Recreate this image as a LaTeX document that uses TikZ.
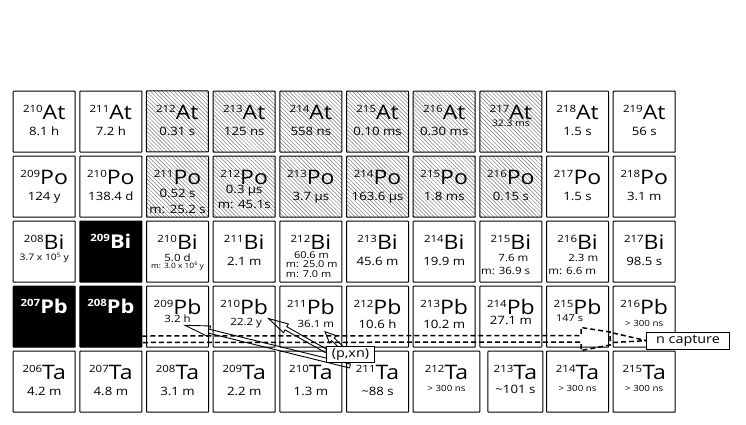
\documentclass[tikz,border=0pt]{standalone}
\usepackage{fontspec}
\setmainfont{Open Sans}[FakeStretch=1.15]
\usetikzlibrary{patterns.meta,calc}
\newcommand\iso[2]{{\fontsize{10}{12}\selectfont\raisebox{7pt}{#1}}#2}
\newcommand\isob[2]{{\fontsize{10}{12}\selectfont\bfseries\raisebox{6.5pt}{#1}}#2}
\newcommand\sups[3]{{\fontsize{#1}{#1}\selectfont\raisebox{#2}{#3}}}
\newcommand\nuc[7][box]{%
  \node[#1] (#2) at ({12.7+66.67*#3},{90.7+65*#4}) {};
  \node[sym] at ($(#2.north)+(0,28.3)$) {\iso{#5}{#6}};
  \node[hl] at ($(#2.north)+(0,44.3)$) {#7};}
\newcommand\hlt[5]{\node[anchor=base,inner sep=0pt,font=\fontsize{#4}{#4}\selectfont] at ($(#1.north)+(#2,#3)$) {#5};}
\newcommand\hlw[5]{\node[anchor=base west,inner sep=0pt,font=\fontsize{#4}{#4}\selectfont] at ($(#1.north west)+(#2,#3)$) {#5};}
\newcommand\hollowarrow[5]{%
  \coordinate (hh) at ($(#2)!#5!(#1)$);
  \draw[harrow] ($(#1)!#3!90:(#2)$) -- ($(hh)!#3!90:(#2)$) -- ($(hh)!#4!90:(#2)$) -- (#2)
    -- ($(hh)!#4!-90:(#2)$) -- ($(hh)!#3!-90:(#2)$) -- ($(#1)!#3!-90:(#2)$) -- cycle;}
\begin{document}
\begin{tikzpicture}[x=1pt,y=-1pt,
  box/.style={draw=black, line width=1pt, minimum width=62pt, minimum height=61pt, anchor=north west, inner sep=0pt, rounded corners=0.6pt},
  hatch/.style={box, pattern={Lines[angle=-45,distance=2.8pt,line width=0.45pt]}, pattern color=black!55},
  blackbox/.style={box, fill=black},
  sym/.style={anchor=base, inner sep=0pt, font=\fontsize{20}{24}\selectfont},
  bsym/.style={anchor=base, inner sep=0pt, text=white, font=\fontsize{19}{23}\selectfont\bfseries},
  hl/.style={anchor=base, inner sep=0pt, font=\fontsize{11.5}{14}\selectfont},
  band/.style={draw=black, line width=1.5pt, dash pattern=on 5pt off 3pt},
  harrow/.style={draw=black, line width=0.9pt, line join=miter},
  lab/.style={draw=black, fill=white, line width=0.9pt, inner sep=0pt, font=\fontsize{12.5}{15}\selectfont}]
\fill[white] (0,0) rectangle (746,424);
\useasboundingbox (0,0) rectangle (746,424);
% row 0: At
\nuc{a210}{0}{0}{210}{At}{8.1 h}
\nuc{a211}{1}{0}{211}{At}{7.2 h}
\nuc[hatch]{a212}{2}{0}{212}{At}{0.31 s}
\nuc[hatch]{a213}{3}{0}{213}{At}{125 ns}
\nuc[hatch]{a214}{4}{0}{214}{At}{558 ns}
\nuc[hatch]{a215}{5}{0}{215}{At}{0.10 ms}
\nuc[hatch]{a216}{6}{0}{216}{At}{0.30 ms}
\nuc[hatch]{a217}{7}{0}{217}{At}{}
\hlt{a217}{0}{36}{9}{32.3 ms}
\nuc{a218}{8}{0}{218}{At}{1.5 s}
\nuc{a219}{9}{0}{219}{At}{56 s}
% row 1: Po
\nuc{p209}{0}{1}{209}{Po}{124 y}
\nuc{p210}{1}{1}{210}{Po}{138.4 d}
\nuc[hatch]{p211}{2}{1}{211}{Po}{}
\hlt{p211}{0}{41.5}{11.5}{0.52 s}
\hlt{p211}{0}{57.5}{11.5}{m: 25.2 s}
\nuc[hatch]{p212}{3}{1}{212}{Po}{}
\hlt{p212}{0}{38}{11.5}{0.3 µs}
\hlt{p212}{0}{53}{11.5}{m: 45.1s}
\nuc[hatch]{p213}{4}{1}{213}{Po}{3.7 µs}
\nuc[hatch]{p214}{5}{1}{214}{Po}{163.6 µs}
\nuc[hatch]{p215}{6}{1}{215}{Po}{1.8 ms}
\nuc[hatch]{p216}{7}{1}{216}{Po}{0.15 s}
\nuc{p217}{8}{1}{217}{Po}{1.5 s}
\nuc{p218}{9}{1}{218}{Po}{3.1 m}
% row 2: Bi
\nuc{b208}{0}{2}{208}{Bi}{}
\hlt{b208}{0}{40}{9}{3.7 x 10\sups{6}{3.5pt}{5} y}
\nuc[blackbox]{b209}{1}{2}{}{}{}
\node[bsym] at ($(b209.north)+(0,27.6)$) {\isob{209}{Bi}};
\nuc{b210}{2}{2}{210}{Bi}{}
\hlt{b210}{0}{41}{10}{5.0 d}
\hlt{b210}{0}{47.5}{7.3}{m: 3.0 x 10\sups{5}{2.8pt}{6} y}
\nuc{b211}{3}{2}{211}{Bi}{2.1 m}
\nuc{b212}{4}{2}{212}{Bi}{}
\hlt{b212}{0.5}{37.3}{9.5}{60.6 m}
\hlw{b212}{6.4}{46.3}{9.5}{m: 25.0 m}
\hlw{b212}{6.4}{56.3}{9.5}{m: 7.0 m}
\nuc{b213}{5}{2}{213}{Bi}{45.6 m}
\nuc{b214}{6}{2}{214}{Bi}{19.9 m}
\nuc{b215}{7}{2}{215}{Bi}{}
\hlt{b215}{2.5}{40.5}{10}{7.6 m}
\hlt{b215}{-5.3}{53.3}{10}{m: 36.9 s}
\nuc{b216}{8}{2}{216}{Bi}{}
\hlt{b216}{5.7}{40.5}{10}{2.3 m}
\hlt{b216}{-5.3}{53.3}{10}{m: 6.6 m}
\nuc{b217}{9}{2}{217}{Bi}{98.5 s}
% row 3: Pb
\nuc[blackbox]{pb207}{0}{3}{}{}{}
\node[bsym] at ($(pb207.north)+(0,27.6)$) {\isob{207}{Pb}};
\nuc[blackbox]{pb208}{1}{3}{}{}{}
\node[bsym] at ($(pb208.north)+(0,27.6)$) {\isob{208}{Pb}};
\nuc{pb209}{2}{3}{209}{Pb}{}
\hlt{pb209}{0}{37}{10}{3.2 h}
\nuc{pb210}{3}{3}{210}{Pb}{}
\hlt{pb210}{2}{39.5}{10}{22.2 y}
\nuc{pb211}{4}{3}{211}{Pb}{}
\hlt{pb211}{5}{41.5}{10}{36.1 m}
\nuc{pb212}{5}{3}{212}{Pb}{}
\hlt{pb212}{0}{42.6}{11.5}{10.6 h}
\nuc{pb213}{6}{3}{213}{Pb}{}
\hlt{pb213}{0}{42.6}{11.5}{10.2 m}
\nuc{pb214}{7}{3}{214}{Pb}{}
\hlt{pb214}{0}{39}{11.5}{27.1 m}
\nuc{pb215}{8}{3}{215}{Pb}{}
\hlt{pb215}{-8}{36}{9.5}{147 s}
\nuc{pb216}{9}{3}{216}{Pb}{}
\hlt{pb216}{0}{41}{8.5}{\textgreater{} 300 ns}
% row 4: Ta
\nuc{t206}{0}{4}{206}{Ta}{4.2 m}
\nuc{t207}{1}{4}{207}{Ta}{4.8 m}
\nuc{t208}{2}{4}{208}{Ta}{3.1 m}
\nuc{t209}{3}{4}{209}{Ta}{2.2 m}
\nuc{t210}{4}{4}{210}{Ta}{1.3 m}
\nuc{t211}{5}{4}{211}{Ta}{\textasciitilde88 s}
\nuc[box,minimum width=66.6pt]{t212}{6}{4}{212}{Ta}{}
\hlt{t212}{0}{41}{8.5}{\textgreater{} 300 ns}
\nuc[box,minimum width=55pt,xshift=8pt]{t213}{7}{4}{213}{Ta}{}
\hlt{t213}{0}{42.6}{11.5}{\textasciitilde101 s}
\nuc{t214}{8}{4}{214}{Ta}{}
\hlt{t214}{0}{41}{8.5}{\textgreater{} 300 ns}
\nuc{t215}{9}{4}{215}{Ta}{}
\hlt{t215}{0}{41}{8.5}{\textgreater{} 300 ns}
% labels
\node[lab, minimum width=82.6pt, minimum height=16.7pt] (ncap) at (688,340.6) {n capture};
% n capture dashed band
\path (pb208.east) ++(0,19.3) coordinate (bandT) ++(0,6.5) coordinate (bandB);
\coordinate (hTL) at (581,335.5);
\draw[band] (bandT) -- (hTL) -- (581,327.5) -- (610,332) -- (610,345) -- (581,350.5) -- (581,342) -- (bandB);
\coordinate (nT) at (613,333);
\coordinate (nB) at (613,342.5);
\draw[band] (nT) -- (ncap.west);
\draw[band] (nB) -- (ncap.west);
% (p,xn) arrows
\coordinate (tip1) at (325,331.7);
\coordinate (tail1) at (342,348);
\coordinate (tip2) at (268.5,318.5);
\coordinate (tail2) at (328,352);
\coordinate (tip3) at (185,325.3);
\coordinate (tail3) at (350,366);
\hollowarrow{tail3}{tip3}{2pt}{5.5pt}{25pt}
\hollowarrow{tail2}{tip2}{1.8pt}{5pt}{20pt}
\hollowarrow{tail1}{tip1}{1.8pt}{5pt}{11pt}
\node[lab, minimum width=47.6pt, minimum height=15.6pt] (pxn) at (350.5,354.5) {(p,xn)};
\end{tikzpicture}
\end{document}
